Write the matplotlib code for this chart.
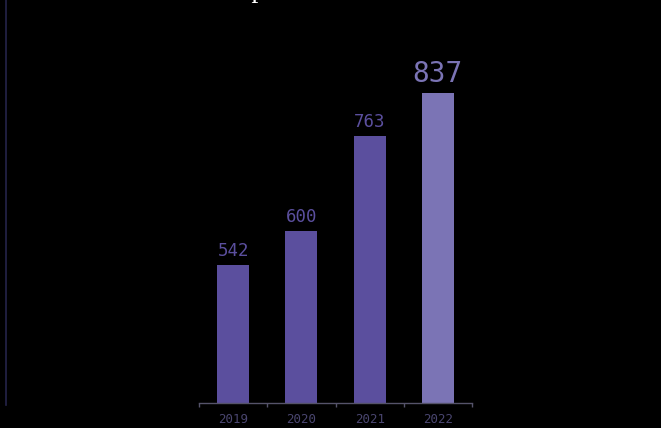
import matplotlib
matplotlib.use("Agg")
import matplotlib.pyplot as plt
from matplotlib.lines import Line2D

# Data
years = ["2019", "2020", "2021", "2022"]
values = [542, 600, 763, 837]
bar_colors = ["#5b4f9e", "#5b4f9e", "#5b4f9e", "#7b74b5"]
label_sizes = [12.5, 12.5, 12.5, 20]

W, H = 661, 428
fig = plt.figure(figsize=(W / 100, H / 100), dpi=100, facecolor="black")

# axes placed in pixel coordinates of the reference
left, right, bottom, top = 199, 472, 403, 40
ax = fig.add_axes([left / W, (H - bottom) / H, (right - left) / W, (bottom - top) / H])
ax.set_facecolor("black")

x = list(range(len(years)))
ax.bar(x, values, width=0.47, color=bar_colors, zorder=2)
ax.set_xlim(-0.5, len(years) - 0.5)
ax.set_ylim(304, 928)

for xi, v, c, s in zip(x, values, bar_colors, label_sizes):
    ax.text(xi, v + 8, str(v), ha="center", va="bottom", color=c,
            fontsize=s, family="DejaVu Sans Mono")

# ticks at bar boundaries, labels at centers
ax.set_xticks([i - 0.5 for i in range(len(years) + 1)])
ax.set_xticklabels([])
ax.tick_params(axis="x", which="major", length=3, color="#55536a", width=1)
ax.set_xticks(x, minor=True)
ax.set_xticklabels(years, minor=True, color="#4a4670", fontsize=9,
                   family="DejaVu Sans Mono")
ax.tick_params(axis="x", which="minor", length=0, pad=7)
ax.set_yticks([])

for side in ["left", "right", "top"]:
    ax.spines[side].set_visible(False)
ax.spines["bottom"].set_color("#55536a")
ax.spines["bottom"].set_linewidth(1)

# faint vertical rule at the left edge
fig.add_artist(Line2D([5.5 / W, 5.5 / W], [(H - 405) / H, 1.0],
                      color="#25234a", linewidth=1.2))

# title sits mostly above the visible area
fig.text(211 / W, 1 + 3 / H, "Output", ha="left", va="baseline",
         color="white", fontsize=20, family="Liberation Serif")

fig.savefig("out.png", dpi=100, facecolor="black")
